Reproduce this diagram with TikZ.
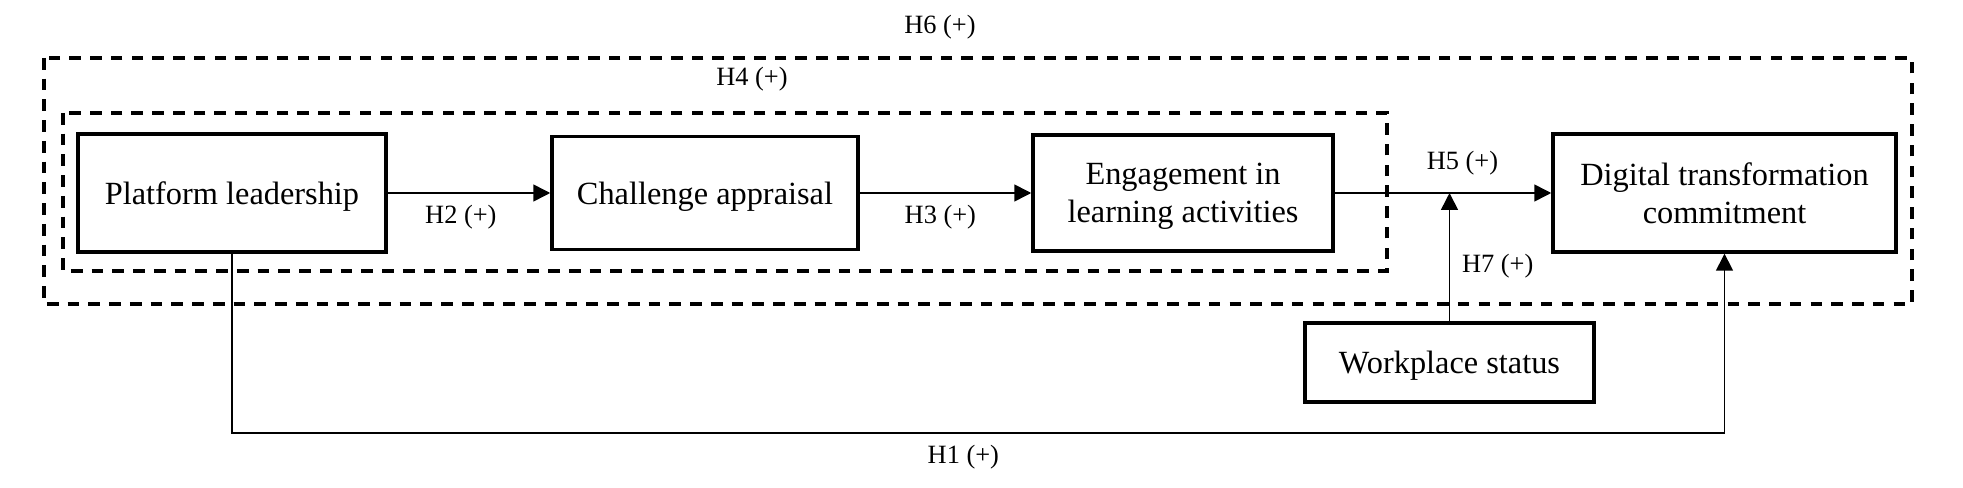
\documentclass[tikz,border=0pt]{standalone}
\usepackage{fontspec}
\setmainfont{Liberation Serif}
\usetikzlibrary{arrows.meta}
\usetikzlibrary{positioning}
\tikzset{
	var/.style={draw, line width=0.95pt, align=center, inner sep=0pt, text depth=0pt,
		font=\fontsize{9.2}{10.8}\selectfont},
	hyp/.style={font=\fontsize{7.5}{9}\selectfont},
	link/.style={line width=0.45pt, -{Triangle[length=4.8pt,width=4.8pt]}},
	frame/.style={line width=0.9pt, dash pattern=on 3.3pt off 2.6pt}
}

\begin{document}
\begin{tikzpicture}[x=0.01cm, y=-0.01cm]
	\useasboundingbox (0,0) rectangle (1963,488);
	\node[var, minimum width=3.08cm, minimum height=1.18cm] (pl) at (232,193){Platform leadership};%X
	\node[var, minimum width=3.06cm, minimum height=1.13cm] (ca) at (705,193){Challenge appraisal};%M1
	\node[var, minimum width=3.00cm, minimum height=1.16cm] (el) at (1183,193){Engagement in\\learning activities};%M2
	\node[var, minimum width=3.43cm, minimum height=1.18cm] (dt) at (1724.5,193){Digital transformation\\commitment};%Y
	\node[var, minimum width=2.89cm, minimum height=0.79cm] (ws) at (1449.5,362.5){Workplace status};%W
	\draw[frame] (63,113) rectangle (1387,271);
	\draw[frame] (44,58) rectangle (1912,304);
	\node[hyp] (h6) at (940,27){H6 (+)};
	\node[hyp] (h4) at (752,79){H4 (+)};
	\draw[link] (pl) --node[hyp, pos=0.45, below]{H2 (+)} (ca);
	\draw[link] (ca) --node[hyp, pos=0.47, below]{H3 (+)} (el);
	\draw[link] (el) --node[hyp, pos=0.59, above=1.5pt]{H5 (+)} (dt);
	\coordinate (mod) at (ws.north |- el.east);
	\draw[link] (ws.north) --node[hyp, pos=0.43, right]{H7 (+)} (mod);
	\coordinate (h1a) at (232,433);
	\coordinate (h1b) at (1724.5,433);
	\draw[link] (pl.south) -- (h1a) --node[hyp, pos=0.49, below]{H1 (+)} (h1b) -- (dt.south);
\end{tikzpicture}
\end{document}
